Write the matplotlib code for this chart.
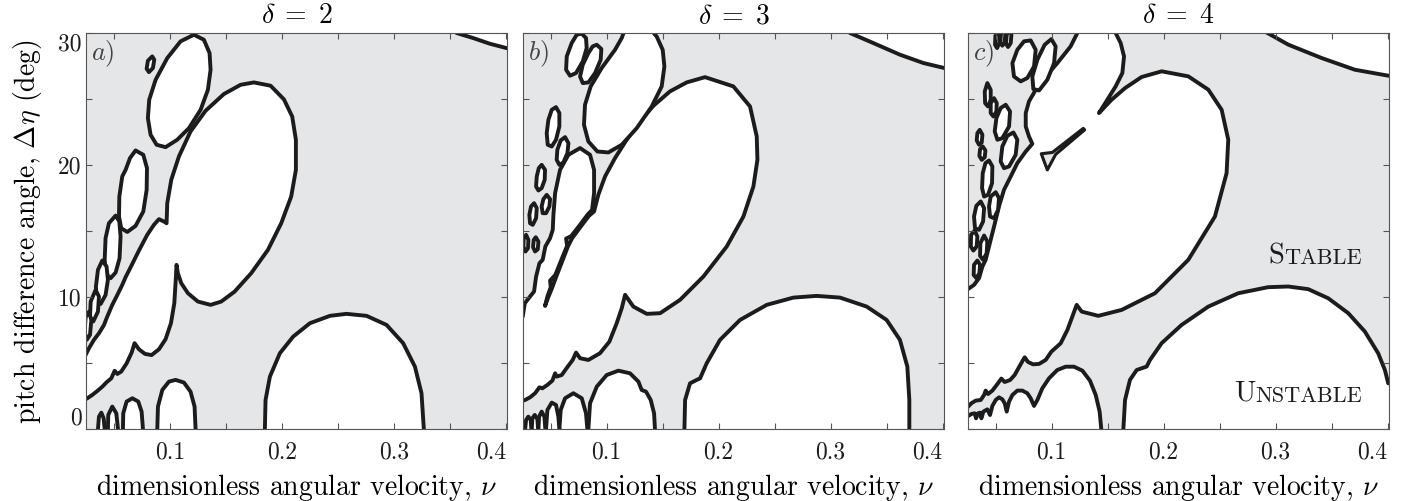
import matplotlib
matplotlib.use("Agg")
import matplotlib.pyplot as plt
from matplotlib.patches import Polygon

plt.rcParams['font.family'] = ['cmr10', 'DejaVu Serif']
plt.rcParams['mathtext.fontset'] = 'cm'
plt.rcParams['axes.unicode_minus'] = False

GREY = '#e5e6e8'
INK = '#1c1c1c'
LW = 2.8

# ---------------- axes / labels ----------------
deltas = [2, 3, 4]
panel_tags = ['a)', 'b)', 'c)']
x_ticks = [0.05, 0.10, 0.15, 0.20, 0.25, 0.30, 0.35, 0.40]
x_tick_labels = ['', '0.1', '', '0.2', '', '0.3', '', '0.4']
y_ticks = [0, 5, 10, 15, 20, 25, 30]
y_tick_labels = ['0', '', '10', '', '20', '', '30']
x_range = (0.025, 0.4015)
y_range = (0, 30)

# ---------------- panel a (delta = 2): unstable regions (nu, eta) ----------------
A_MAIN = [(0.0232, 5.38), (0.0277, 6.14), (0.0321, 6.77), (0.0366, 7.27), (0.0411, 7.90),
          (0.0440, 8.53), (0.0485, 9.42), (0.0530, 10.17), (0.0574, 10.93), (0.0604, 11.52),
          (0.0649, 12.27), (0.0723, 13.53), (0.0797, 14.72), (0.0857, 15.48), (0.0902, 15.91),
          (0.0946, 15.73), (0.0970, 15.60),
          (0.0976, 17.12), (0.1012, 18.89), (0.1080, 20.65), (0.1184, 22.55), (0.1318, 24.11),
          (0.1482, 25.38), (0.1631, 26.08), (0.1750, 26.26), (0.1899, 26.01), (0.2018, 24.98),
          (0.2092, 23.68), (0.2125, 21.92), (0.2125, 19.64), (0.2083, 17.62), (0.1994, 15.60),
          (0.1875, 13.58), (0.1726, 11.82), (0.1577, 10.42), (0.1458, 9.67), (0.1363, 9.42),
          (0.1250, 9.67), (0.1161, 10.30), (0.1101, 11.06), (0.1071, 11.82), (0.1059, 12.45),
          (0.1050, 11.06), (0.1039, 9.54), (0.1009, 8.03), (0.0961, 6.82), (0.0902, 6.06),
          (0.0836, 5.62), (0.0777, 5.71), (0.0723, 6.06), (0.0684, 6.52), (0.0658, 5.81),
          (0.0613, 4.99), (0.0565, 4.37), (0.0530, 4.19), (0.0506, 4.43), (0.0476, 3.86),
          (0.0434, 3.56), (0.0396, 3.23), (0.0351, 2.90), (0.0306, 2.60), (0.0262, 2.35),
          (0.0232, 2.22)]
A_UPPER = [(0.1214, 29.87), (0.1303, 29.49), (0.1354, 28.48), (0.1363, 27.22), (0.1339, 25.70),
           (0.1274, 24.19), (0.1170, 22.80), (0.1065, 21.92), (0.0961, 21.36), (0.0881, 21.54),
           (0.0827, 22.30), (0.0803, 23.56), (0.0815, 24.95), (0.0872, 26.46), (0.0976, 28.10),
           (0.1095, 29.37)]
A_SPECK = [(0.0842, 28.23), (0.0860, 27.98), (0.0848, 27.35), (0.0812, 27.04), (0.0792, 27.30),
           (0.0803, 27.90)]
A_E3 = [(0.0693, 21.11), (0.0762, 20.78), (0.0795, 19.77), (0.0792, 18.13), (0.0762, 16.49),
        (0.0693, 15.40), (0.0619, 14.94), (0.0565, 15.22), (0.0545, 16.11), (0.0548, 17.62),
        (0.0574, 19.14), (0.0604, 19.64), (0.0643, 20.53)]
A_E4 = [(0.0515, 16.18), (0.0548, 15.73), (0.0559, 14.59), (0.0550, 12.95), (0.0515, 11.87),
        (0.0470, 11.44), (0.0428, 11.77), (0.0417, 12.83), (0.0425, 14.47), (0.0455, 15.60)]
A_E5 = [(0.0396, 12.78), (0.0434, 12.32), (0.0446, 11.31), (0.0425, 10.17), (0.0381, 9.49),
        (0.0345, 9.80), (0.0339, 10.81), (0.0357, 12.07)]
A_E6 = [(0.0336, 10.55), (0.0366, 10.05), (0.0357, 8.91), (0.0315, 8.16), (0.0286, 8.48),
        (0.0292, 9.67)]
A_E7 = [(0.0277, 8.91), (0.0298, 8.28), (0.0286, 7.15), (0.0256, 6.77), (0.0238, 7.40),
        (0.0247, 8.48)]
A_B1 = [(0.0887, 0), (0.0893, 1.72), (0.0932, 2.98), (0.0991, 3.61), (0.1051, 3.74),
        (0.1125, 3.54), (0.1184, 2.85), (0.1220, 1.72), (0.1229, 0)]
A_B2 = [(0.0580, 0), (0.0583, 1.21), (0.0613, 2.10), (0.0664, 2.35), (0.0717, 2.10),
        (0.0747, 1.34), (0.0759, 0)]
A_B3 = [(0.0446, 0), (0.0449, 1.09), (0.0485, 1.72), (0.0521, 1.21), (0.0536, 0)]
A_B4 = [(0.0357, 0), (0.0366, 0.96), (0.0387, 1.26), (0.0408, 0.83), (0.0417, 0)]
A_DOME = [(0.1848, 0), (0.1854, 2.22), (0.1893, 3.99), (0.1982, 5.76), (0.2101, 7.02),
          (0.2250, 8.03), (0.2429, 8.59), (0.2577, 8.74), (0.2756, 8.59), (0.2935, 7.90),
          (0.3083, 6.52), (0.3188, 4.75), (0.3247, 2.73), (0.3268, 0)]
A_CORNER = [(0.356, 30.0), (0.3708, 29.62), (0.3857, 29.19), (0.4006, 28.86)]

# ---------------- panel b (delta = 3) ----------------
B_MAIN = [(0.0250, 8.53), (0.0268, 9.54), (0.0315, 10.05), (0.0351, 10.43), (0.0369, 11.56),
          (0.0399, 12.57), (0.0428, 12.83), (0.0452, 13.84), (0.0494, 14.47), (0.0518, 15.10),
          (0.0524, 16.24),
          (0.0539, 17.88), (0.0583, 19.64), (0.0658, 20.78), (0.0762, 21.29), (0.0851, 20.78),
          (0.0887, 19.64), (0.0887, 17.88), (0.0869, 16.61),
          (0.0830, 16.26), (0.0754, 15.40), (0.0682, 14.62), (0.0637, 14.44), (0.0646, 13.89),
          (0.0598, 12.90), (0.0541, 11.69), (0.0494, 11.26), (0.0500, 10.76), (0.0470, 10.05),
          (0.0449, 9.34),
          (0.0478, 10.00), (0.0508, 10.62), (0.0549, 11.55), (0.0606, 12.80), (0.0654, 13.85),
          (0.0690, 14.45), (0.0764, 15.30), (0.0840, 16.15), (0.0887, 16.49),
          (0.0925, 17.75), (0.0985, 19.14), (0.1074, 20.53), (0.1178, 21.92), (0.1283, 23.18),
          (0.1417, 24.49), (0.1565, 25.58), (0.1714, 26.26), (0.1878, 26.66),
          (0.2131, 25.96), (0.2280, 24.44), (0.2340, 22.17), (0.2346, 20.40), (0.2310, 18.38),
          (0.2221, 16.11), (0.2072, 13.84), (0.1864, 11.57), (0.1655, 9.80), (0.1477, 8.79),
          (0.1358, 8.74), (0.1238, 9.29), (0.1164, 10.18),
          (0.1134, 9.16), (0.1089, 8.03), (0.1024, 6.64), (0.0940, 5.76), (0.0836, 5.25),
          (0.0762, 5.38), (0.0726, 5.81), (0.0696, 5.25), (0.0652, 4.75), (0.0598, 4.11),
          (0.0553, 3.99), (0.0539, 4.24), (0.0515, 3.69), (0.0470, 3.36), (0.0425, 3.10),
          (0.0399, 3.18), (0.0360, 2.73), (0.0315, 2.42), (0.0271, 2.22), (0.0250, 2.17)]
B_TOP = [(0.1178, 30.6), (0.1357, 30.6), (0.1446, 29.74), (0.1500, 28.73), (0.1515, 27.47),
         (0.1491, 25.96), (0.1402, 24.44), (0.1268, 22.80), (0.1134, 21.54), (0.1015, 20.96),
         (0.0917, 21.03), (0.0836, 21.79), (0.0797, 23.05), (0.0806, 24.57), (0.0857, 25.96),
         (0.0955, 27.35), (0.1074, 28.73), (0.1134, 29.62)]
B_S1 = [(0.0777, 29.95), (0.0815, 29.62), (0.0821, 28.86), (0.0786, 27.85), (0.0726, 26.97),
        (0.0672, 26.77), (0.0637, 27.22), (0.0643, 28.23), (0.0687, 29.24), (0.0732, 29.87)]
B_S2 = [(0.0911, 29.11), (0.0952, 28.79), (0.0946, 27.98), (0.0896, 26.97), (0.0836, 26.26),
        (0.0786, 26.21), (0.0762, 26.71), (0.0786, 27.60), (0.0836, 28.48), (0.0875, 28.99)]
B_S3 = [(0.0547, 24.39), (0.0577, 23.94), (0.0577, 22.93), (0.0547, 21.92), (0.0509, 21.41),
        (0.0473, 21.54), (0.0464, 22.42), (0.0479, 23.43), (0.0509, 24.19)]
B_S4 = [(0.0628, 22.12), (0.0658, 21.66), (0.0649, 20.91), (0.0613, 20.20), (0.0577, 20.02),
        (0.0553, 20.40), (0.0559, 21.16), (0.0589, 21.87)]
B_S5 = [(0.0419, 20.02), (0.0449, 19.64), (0.0446, 18.89), (0.0419, 18.26), (0.0390, 18.08),
        (0.0369, 18.38), (0.0375, 19.14), (0.0393, 19.77)]
B_S6 = [(0.0464, 17.75), (0.0494, 17.42), (0.0488, 16.87), (0.0458, 16.36), (0.0428, 16.36),
        (0.0419, 16.87), (0.0434, 17.42)]
B_S7 = [(0.0351, 17.12), (0.0375, 16.74), (0.0369, 15.98), (0.0339, 15.48), (0.0315, 15.60),
        (0.0309, 16.24), (0.0324, 16.87)]
B_S8 = [(0.0280, 14.72), (0.0300, 14.34), (0.0297, 13.71), (0.0274, 13.46), (0.0256, 13.84),
        (0.0259, 14.47)]
B_S9 = [(0.0366, 14.54), (0.0390, 14.21), (0.0384, 13.63), (0.0360, 13.46), (0.0342, 13.79),
        (0.0348, 14.34)]
B_B1 = [(0.0836, 0), (0.0851, 1.97), (0.0911, 3.23), (0.1000, 4.11), (0.1104, 4.44),
        (0.1208, 4.24), (0.1283, 3.61), (0.1312, 2.98), (0.1351, 2.85), (0.1393, 2.22),
        (0.1423, 1.21), (0.1431, 0)]
B_B2 = [(0.0577, 0), (0.0589, 1.46), (0.0628, 2.35), (0.0702, 2.73), (0.0777, 2.35),
        (0.0815, 1.21), (0.0827, 0)]
B_B3 = [(0.0458, 0), (0.0470, 1.46), (0.0509, 2.02), (0.0547, 1.84), (0.0568, 0.96), (0.0577, 0)]
B_B4 = [(0.0390, 0), (0.0396, 0.96), (0.0419, 1.34), (0.0443, 0.96), (0.0452, 0)]
B_B5 = [(0.0330, 0), (0.0336, 0.83), (0.0357, 1.09), (0.0381, 0.76), (0.0387, 0)]
B_B6 = [(0.0271, 0), (0.0280, 0.71), (0.0300, 0.96), (0.0321, 0.71), (0.0327, 0)]
B_DOME = [(0.1694, 0), (0.1700, 2.22), (0.1744, 3.48), (0.1804, 3.74), (0.1834, 3.86),
          (0.1893, 5.00), (0.2012, 6.77), (0.2191, 8.28), (0.2429, 9.42), (0.2667, 9.97),
          (0.2875, 10.10), (0.3084, 9.97), (0.3322, 9.29), (0.3500, 8.28), (0.3619, 6.77),
          (0.3685, 4.75), (0.3703, 2.22), (0.3703, 0)]
B_CORNER = [(0.3173, 30.0), (0.3381, 29.24), (0.3619, 28.36), (0.3828, 27.73), (0.4015, 27.35)]

# ---------------- panel c (delta = 4) ----------------
C_MAIN = [(0.0250, 10.60), (0.0306, 10.93), (0.0351, 11.44), (0.0381, 12.32), (0.0410, 12.83),
          (0.0440, 13.84), (0.0485, 15.35), (0.0529, 16.87), (0.0574, 18.13), (0.0634, 19.14),
          (0.0693, 20.15), (0.0768, 21.03), (0.0827, 21.61),
          (0.0797, 22.17), (0.0768, 22.93), (0.0768, 23.94), (0.0797, 24.82), (0.0857, 25.70),
          (0.0946, 26.71), (0.1050, 27.72), (0.1169, 28.99), (0.1244, 30.25), (0.1244, 31.0),
          (0.1541, 31.0), (0.1571, 30.0), (0.1616, 29.24), (0.1646, 28.23), (0.1631, 26.97),
          (0.1571, 25.96), (0.1497, 24.95), (0.1422, 23.94),
          (0.1535, 24.95), (0.1655, 25.83), (0.1803, 26.67), (0.1982, 27.10), (0.2220, 26.72),
          (0.2399, 25.71), (0.2518, 24.19), (0.2577, 21.92), (0.2562, 19.39), (0.2458, 16.11),
          (0.2220, 12.83), (0.1922, 10.30), (0.1625, 9.04), (0.1416, 8.59), (0.1268, 8.91),
          (0.1223, 9.42),
          (0.1184, 8.53), (0.1140, 7.52), (0.1080, 6.51), (0.0997, 5.88), (0.0946, 5.25),
          (0.0887, 4.95), (0.0833, 4.92), (0.0788, 5.10), (0.0759, 5.45), (0.0741, 5.20),
          (0.0711, 4.75), (0.0669, 4.11), (0.0628, 3.73), (0.0580, 3.58), (0.0550, 3.84),
          (0.0515, 3.43), (0.0470, 2.93), (0.0431, 2.67), (0.0410, 2.93), (0.0396, 2.60),
          (0.0366, 2.22), (0.0321, 2.17), (0.0282, 1.97), (0.0247, 1.66)]
C_LOWER = [(0.0247, 0.96), (0.0282, 1.16), (0.0312, 1.21), (0.0324, 0.83), (0.0342, 1.21),
           (0.0360, 1.26), (0.0372, 0.83), (0.0390, 1.34), (0.0425, 1.51), (0.0449, 1.08),
           (0.0470, 1.77), (0.0500, 2.22), (0.0529, 2.42), (0.0559, 2.27), (0.0580, 1.97),
           (0.0598, 1.34), (0.0619, 2.09), (0.0649, 2.60), (0.0693, 2.93), (0.0738, 2.93),
           (0.0782, 2.73), (0.0812, 2.35), (0.0842, 1.77), (0.0872, 2.22), (0.0916, 3.10),
           (0.0976, 3.86), (0.1050, 4.49), (0.1125, 4.74), (0.1199, 4.74), (0.1274, 4.44),
           (0.1342, 3.68), (0.1393, 2.60), (0.1428, 1.34), (0.1443, 0.0)]
C_SLIT = [(0.1282, 22.78), (0.1294, 22.67), (0.1035, 20.81), (0.0961, 19.64), (0.0907, 20.86),
          (0.1006, 20.96)]
C_S1 = [(0.0524, 30.12), (0.0535, 29.87), (0.0532, 29.24), (0.0512, 28.86), (0.0494, 29.11), (0.0497, 29.80)]
C_S2 = [(0.0574, 30.25), (0.0586, 29.95), (0.0580, 29.29), (0.0559, 29.04), (0.0541, 29.29), (0.0547, 29.95)]
C_S3 = [(0.0628, 30.25), (0.0640, 29.87), (0.0634, 29.24), (0.0610, 28.94), (0.0592, 29.19), (0.0598, 29.87)]
C_S4 = [(0.0812, 29.44), (0.0857, 28.73), (0.0842, 27.47), (0.0782, 26.59), (0.0723, 26.34),
        (0.0663, 26.71), (0.0649, 27.72), (0.0693, 28.73), (0.0753, 29.37)]
C_S5 = [(0.0997, 29.54), (0.1035, 28.99), (0.1021, 27.72), (0.0961, 26.46), (0.0887, 25.65),
        (0.0836, 25.76), (0.0827, 26.71), (0.0872, 27.98), (0.0937, 29.11)]
C_S6 = [(0.0425, 26.21), (0.0455, 25.70), (0.0455, 24.95), (0.0431, 24.44), (0.0405, 24.69), (0.0402, 25.58)]
C_S7 = [(0.0485, 25.07), (0.0509, 24.69), (0.0506, 24.06), (0.0479, 23.68), (0.0455, 23.94), (0.0455, 24.69)]
C_S8 = [(0.0589, 24.57), (0.0628, 24.06), (0.0619, 22.93), (0.0559, 22.04), (0.0515, 21.92),
        (0.0491, 22.55), (0.0506, 23.56), (0.0544, 24.32)]
C_S9 = [(0.0658, 22.47), (0.0693, 21.92), (0.0678, 20.78), (0.0619, 19.90), (0.0574, 19.77),
        (0.0544, 20.28), (0.0559, 21.41), (0.0604, 22.22)]
C_S10 = [(0.0357, 22.67), (0.0381, 22.30), (0.0375, 21.71), (0.0351, 21.54), (0.0330, 21.87), (0.0336, 22.42)]
C_S11 = [(0.0384, 21.41), (0.0408, 21.11), (0.0402, 20.60), (0.0375, 20.40), (0.0354, 20.70), (0.0360, 21.21)]
C_S12 = [(0.0440, 20.35), (0.0470, 19.90), (0.0467, 18.63), (0.0431, 17.75), (0.0396, 17.62),
         (0.0378, 18.26), (0.0384, 19.39), (0.0408, 20.15)]
C_S13 = [(0.0500, 17.95), (0.0529, 17.50), (0.0521, 16.61), (0.0485, 15.98), (0.0449, 16.11),
         (0.0440, 16.87), (0.0455, 17.62)]
C_S14 = [(0.0366, 17.25), (0.0396, 16.74), (0.0387, 15.73), (0.0351, 15.10), (0.0315, 15.22),
         (0.0306, 16.11), (0.0327, 16.92)]
C_S15 = [(0.0312, 15.05), (0.0336, 14.59), (0.0330, 13.84), (0.0300, 13.53), (0.0277, 13.84), (0.0280, 14.72)]
C_S16 = [(0.0396, 14.67), (0.0425, 14.21), (0.0419, 13.33), (0.0387, 12.83), (0.0360, 13.13), (0.0363, 14.09)]
C_S17 = [(0.0336, 12.78), (0.0360, 12.45), (0.0354, 11.82), (0.0327, 11.44), (0.0303, 11.69), (0.0306, 12.45)]
C_DOME = [(0.1640, 0), (0.1655, 2.22), (0.1699, 3.74), (0.1759, 4.49), (0.1848, 4.75),
          (0.1878, 5.25), (0.1982, 6.52), (0.2160, 7.90), (0.2399, 9.29), (0.2666, 10.30),
          (0.2934, 10.76), (0.3113, 10.81), (0.3291, 10.61), (0.3470, 9.92), (0.3649, 8.79),
          (0.3797, 7.40), (0.3916, 5.76), (0.3976, 4.49), (0.4006, 3.48)]
C_CORNER = [(0.2875, 30.25), (0.3113, 29.12), (0.3410, 28.11), (0.3708, 27.22), (0.4006, 26.77)]

region_labels = ['Stable', 'Unstable']
label_pos = [(0.3773, 12.52), (0.3773, 2.09)]


# ---------------- closure helpers (extend regions beyond the frame) ----------------
def ground(p):
    return list(p) + [(p[-1][0], -2.0), (p[0][0], -2.0)]


def wall(p):
    return list(p) + [(0.0, p[-1][1]), (0.0, p[0][1])]


def wall_ground(p):
    return list(p) + [(p[-1][0], -2.0), (0.0, -2.0), (0.0, p[0][1])]


def corner(p):
    return list(p) + [(0.5, p[-1][1]), (0.5, 32.0), (p[0][0], 32.0)]


def right_ground(p):
    return list(p) + [(0.5, p[-1][1]), (0.5, -2.0), (p[0][0], -2.0)]


panel_a = [wall(A_MAIN), A_UPPER, A_SPECK, A_E3, A_E4, A_E5, A_E6, A_E7,
           ground(A_B1), ground(A_B2), ground(A_B3), ground(A_B4), ground(A_DOME), corner(A_CORNER)]
panel_b = [wall(B_MAIN), B_TOP, B_S1, B_S2, B_S3, B_S4, B_S5, B_S6, B_S7, B_S8, B_S9,
           ground(B_B1), ground(B_B2), ground(B_B3), ground(B_B4), ground(B_B5), ground(B_B6),
           ground(B_DOME), corner(B_CORNER)]
panel_c = [wall(C_MAIN), wall_ground(C_LOWER), C_S1, C_S2, C_S3, C_S4, C_S5, C_S6, C_S7, C_S8,
           C_S9, C_S10, C_S11, C_S12, C_S13, C_S14, C_S15, C_S16, C_S17,
           right_ground(C_DOME), corner(C_CORNER)]
panels_white = [panel_a, panel_b, panel_c]
panels_grey = [[], [], [C_SLIT]]

fig = plt.figure(figsize=(14.14, 5.01), dpi=100)
lefts = [0.0608, 0.3697, 0.6844]

for i in range(3):
    ax = fig.add_axes([lefts[i], 0.1431, 0.2981, 0.7910])
    ax.set_facecolor(GREY)
    ax.set_xlim(*x_range)
    ax.set_ylim(*y_range)
    for pts in panels_white[i]:
        ax.add_patch(Polygon(pts, closed=True, facecolor='white', edgecolor=INK,
                             linewidth=LW, joinstyle='round'))
    for pts in panels_grey[i]:
        ax.add_patch(Polygon(pts, closed=True, facecolor=GREY, edgecolor=INK,
                             linewidth=LW * 0.8, joinstyle='round'))

    ax.set_xticks(x_ticks, x_tick_labels)
    if i == 0:
        ax.set_yticks(y_ticks, y_tick_labels)
        yl = ax.get_yticklabels()
        yl[0].set_va('bottom')
        yl[-1].set_va('top')
        ax.set_ylabel(r'pitch difference angle, $\Delta\eta$ (deg)', fontsize=20, labelpad=10)
    else:
        ax.set_yticks(y_ticks, [''] * len(y_ticks))
    xl = ax.get_xticklabels()
    xl[-1].set_ha('right')

    ax.tick_params(direction='in', top=True, right=True, length=4, width=0.8,
                   color='#555555', labelsize=17, labelcolor=INK)
    ax.tick_params(axis='x', pad=9)
    ax.tick_params(axis='y', pad=3)
    for s in ax.spines.values():
        s.set_color('#555555')
        s.set_linewidth(0.8)

    ax.set_xlabel(r'dimensionless angular velocity, $\nu$', fontsize=20, labelpad=6)
    ax.set_title(r'$\delta\;=\;%d$' % deltas[i], fontsize=20, pad=7)
    ax.text(0.012, 0.985, '$%s$' % panel_tags[i], transform=ax.transAxes, ha='left', va='top',
            fontsize=19, color='#444444')

    if i == 2:
        for word, (lx, ly) in zip(region_labels, label_pos):
            rest = ax.text(lx, ly, word[1:].upper(), fontsize=16, ha='right', va='baseline',
                           color=INK)
            ax.annotate(word[0].upper(), xy=(0, 0), xycoords=rest, ha='right', va='bottom',
                        fontsize=20.5, color=INK, xytext=(0, -0.9), textcoords='offset points')

fig.savefig('out.png', dpi=100)
